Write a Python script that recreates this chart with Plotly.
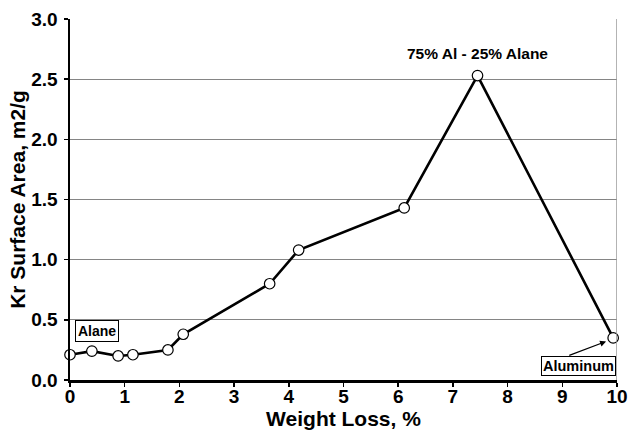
import plotly.graph_objects as go

weight_loss = [0.0, 0.4, 0.88, 1.15, 1.79, 2.07, 3.65, 4.18, 6.11, 7.45, 9.93]
surface_area = [0.21, 0.24, 0.20, 0.21, 0.25, 0.38, 0.80, 1.08, 1.43, 2.53, 0.35]
x_ticks = [0, 1, 2, 3, 4, 5, 6, 7, 8, 9, 10]
y_ticks = [0.0, 0.5, 1.0, 1.5, 2.0, 2.5, 3.0]

font = "Liberation Sans, Arial, sans-serif"

fig = go.Figure()
fig.add_trace(go.Scatter(
    x=weight_loss, y=surface_area, mode="lines+markers",
    line=dict(color="black", width=2.6),
    marker=dict(size=10.5, color="white", line=dict(color="black", width=1.2)),
    cliponaxis=False, showlegend=False, hoverinfo="skip",
))

fig.update_layout(
    width=634, height=433,
    margin=dict(l=70, r=17, t=19, b=53),
    paper_bgcolor="white", plot_bgcolor="white",
    font=dict(family=font, color="black"),
    xaxis=dict(
        range=[0, 10], tickvals=x_ticks, ticktext=[str(v) for v in x_ticks],
        showgrid=False, zeroline=False, automargin=False,
        showline=True, linecolor="black", linewidth=2.5,
        ticks="outside", ticklen=4, tickwidth=1.5, tickcolor="black",
        ticklabelstandoff=-6,
        tickfont=dict(size=19, family=font, weight="bold"),
        title=dict(text="<b>Weight Loss, %</b>", font=dict(size=21), standoff=4),
    ),
    yaxis=dict(
        range=[0, 3], tickvals=y_ticks, ticktext=[f"{v:.1f}" for v in y_ticks],
        showgrid=True, gridcolor="#858585", gridwidth=1.2, zeroline=False,
        automargin=False,
        showline=True, linecolor="black", linewidth=2.5,
        ticks="outside", ticklen=4, tickwidth=1.5, tickcolor="black",
        ticklabelstandoff=2,
        tickfont=dict(size=19, family=font, weight="bold"),
        title=dict(text="<b>Kr Surface Area, m2/g</b>", font=dict(size=21), standoff=0),
    ),
    shapes=[dict(type="line", xref="x", yref="paper", x0=10, x1=10, y0=0, y1=1,
                 line=dict(color="#9a9a9a", width=1.5))],
    annotations=[
        dict(x=0.09, y=0.41, xref="x", yref="y", xanchor="left", text="<b>Alane</b>",
             showarrow=False, font=dict(size=14), bordercolor="black", borderwidth=1,
             borderpad=2, bgcolor="white"),
        dict(x=7.45, y=2.71, xref="x", yref="y", text="<b>75% Al - 25% Alane</b>",
             showarrow=False, font=dict(size=15.5)),
        dict(x=9.80, y=0.32, xref="x", yref="y", ax=9.10, ay=0.20, axref="x", ayref="y",
             text="", showarrow=True, arrowhead=2, arrowsize=1,
             arrowwidth=1.2, arrowcolor="black", standoff=0),
        dict(x=9.29, y=0.12, xref="x", yref="y", text="<b>Aluminum</b>",
             showarrow=False, font=dict(size=14.5),
             bordercolor="black", borderwidth=1, borderpad=1, bgcolor="white"),
    ],
)

html = fig.to_html(include_plotlyjs=True, full_html=True,
                   config={"displayModeBar": False, "staticPlot": True})
html = html.replace("<body>", '<body style="margin:0;padding:0;">', 1)
html = html.replace("<head>", "<head><style>html,body{margin:0;padding:0;overflow:hidden;}</style>", 1)
with open("out.html", "w", encoding="utf-8") as f:
    f.write(html)
